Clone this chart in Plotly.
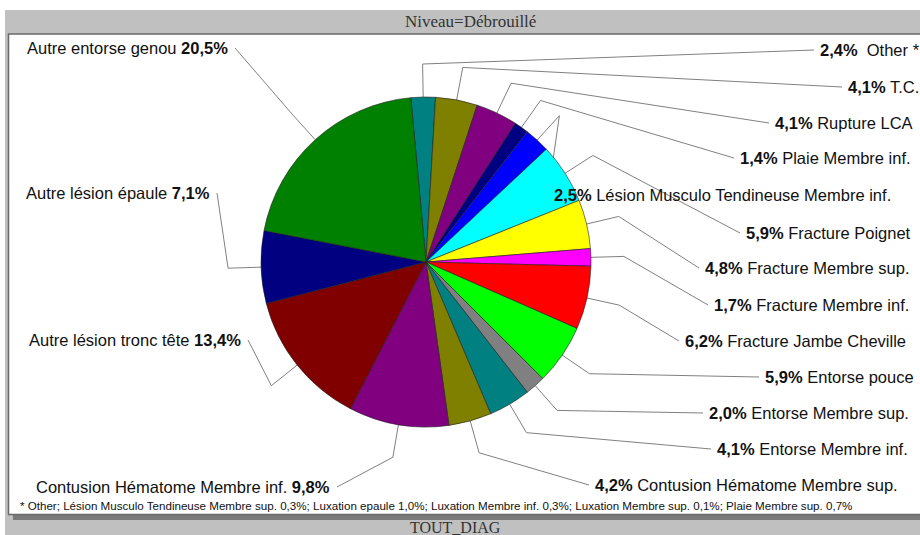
import math
import plotly.graph_objects as go

# ---------------- data ----------------
categories = ["Other *", "T.C.", "Rupture LCA", "Plaie Membre inf.",
              "Lésion Musculo Tendineuse Membre inf.", "Fracture Poignet",
              "Fracture Membre sup.", "Fracture Membre inf.", "Fracture Jambe Cheville",
              "Entorse pouce", "Entorse Membre sup.", "Entorse Membre inf.",
              "Contusion Hématome Membre sup.", "Contusion Hématome Membre inf.",
              "Autre lésion tronc tête", "Autre lésion épaule", "Autre entorse genou"]
values = [2.4, 4.1, 4.1, 1.4, 2.5, 5.9, 4.8, 1.7, 6.2, 5.9, 2.0, 4.1, 4.2, 9.8, 13.4, 7.1, 20.5]
colors = ["#008080", "#808000", "#800080", "#000080", "#0000FF", "#00FFFF", "#FFFF00",
          "#FF00FF", "#FF0000", "#00FF00", "#808080", "#008080", "#808000", "#800080",
          "#800000", "#000080", "#008000"]
title_text = "Niveau=Débrouillé"
footer_text = "TOUT_DIAG"
footnote_text = ("* Other; Lésion Musculo Tendineuse Membre sup. 0,3%; Luxation epaule 1,0%; "
                 "Luxation Membre inf. 0,3%; Luxation Membre sup. 0,1%; Plaie Membre sup. 0,7%")

# ---------------- layout geometry (pixels) ----------------
W, H = 920, 535
CX, CY, R = 426, 262, 165
ROTATION = -5.3
# label anchor positions: right side labels anchored at their left edge, left side at right edge
label_x = [818, 846, 773, 738, 552, 744, 703, 712, 683, 763, 707, 715, 593, 332, 243, 212, 230]
label_y = [50, 87, 123, 158, 195, 233, 268, 305, 341, 377, 413, 449, 485, 487, 340, 193, 48]
label_side = ["r"] * 13 + ["l"] * 4

fig = go.Figure()

# hidden pixel axes for background and leader lines
fig.update_layout(
    xaxis=dict(range=[0, W], visible=False, fixedrange=True, domain=[0, 1]),
    yaxis=dict(range=[H, 0], visible=False, fixedrange=True, domain=[0, 1]),
)

# background frame
shapes = [
    dict(type="rect", x0=5, x1=W + 5, y0=10, y1=H + 5, fillcolor="#c0c0c0", line=dict(width=0), layer="below"),
    dict(type="rect", x0=13, x1=W + 5, y0=514, y1=520, fillcolor="#7a7a7a", line=dict(width=0), layer="below"),
    dict(type="rect", x0=8.5, x1=W + 5, y0=34, y1=514.5, fillcolor="white",
         line=dict(color="#6a6a6a", width=1.5), layer="below"),
]

pie = go.Pie(
    labels=categories, values=values, sort=False, direction="clockwise",
    rotation=ROTATION, textinfo="none", showlegend=False,
    marker=dict(colors=colors, line=dict(color="#202020", width=0.6)),
    domain=dict(x=[(CX - R) / W, (CX + R) / W], y=[(H - CY - R) / H, (H - CY + R) / H]),
    hovertemplate="%{label}: %{value}%<extra></extra>",
)
fig.add_trace(pie)

total = sum(values)
cum = 0.0
annotations = []
for i, (lab, v) in enumerate(zip(categories, values)):
    mid = math.radians(ROTATION + (cum + v / 2) / total * 360)
    cum += v
    px, py = CX + R * math.sin(mid), CY - R * math.cos(mid)
    ex, ey = CX + 1.2 * R * math.sin(mid), CY - 1.2 * R * math.cos(mid)
    pct = f"{v:.1f}".replace(".", ",") + "%"
    if label_side[i] == "r":
        tx = label_x[i] - 4
        sep = "\u00a0\u00a0" if lab.startswith("Other") else " "
        text = f"<b>{pct}</b>{sep}{lab}"
        anchor = "left"
    else:
        tx = label_x[i] + 5
        text = f"{lab} <b>{pct}</b>"
        anchor = "right"
    fig.add_trace(go.Scatter(x=[px, ex, tx], y=[py, ey, label_y[i]], mode="lines",
                             line=dict(color="#808080", width=1), hoverinfo="skip",
                             showlegend=False))
    annotations.append(dict(x=label_x[i], y=label_y[i], xref="x", yref="y", text=text,
                            showarrow=False, xanchor=anchor, yanchor="middle",
                            font=dict(family="Liberation Sans, Arial", size=16.5, color="#111111")))

annotations.append(dict(x=470, y=21, xref="x", yref="y", text=title_text, showarrow=False,
                        xanchor="center", yanchor="middle",
                        font=dict(family="Liberation Serif, Times New Roman", size=17, color="#333333")))
annotations.append(dict(x=455, y=527, xref="x", yref="y", text=footer_text, showarrow=False,
                        xanchor="center", yanchor="middle",
                        font=dict(family="Liberation Serif, Times New Roman", size=16, color="#333333")))
annotations.append(dict(x=18, y=505, xref="x", yref="y", text=footnote_text, showarrow=False,
                        xanchor="left", yanchor="middle",
                        font=dict(family="Liberation Sans Narrow, Arial Narrow, Liberation Sans", size=11.6,
                                  color="#111111")))

fig.update_layout(
    width=W, height=H, margin=dict(l=0, r=0, t=0, b=0),
    paper_bgcolor="white", plot_bgcolor="rgba(0,0,0,0)",
    shapes=shapes, annotations=annotations, showlegend=False,
)

fig.write_html("out.html", config={"displayModeBar": False},
               post_script="document.body.style.margin='0';document.body.style.overflow='hidden';")
